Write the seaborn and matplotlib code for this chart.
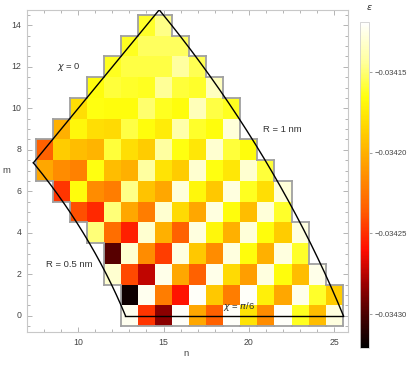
import numpy as np
import pandas as pd
import matplotlib
matplotlib.use("Agg")
import matplotlib.pyplot as plt
import seaborn as sns
from matplotlib.colors import LinearSegmentedColormap
from matplotlib.collections import LineCollection

# ---------------- data ----------------
m_values = list(range(15))
n_start = [13, 13, 12, 12, 11, 10, 9, 8, 8, 9, 10, 11, 12, 13, 14]

eps_m0 = [-0.034123, -0.034248, -0.034285, -0.034121, -0.034204, -0.034234, -0.034121,
          -0.034178, -0.034216, -0.034121, -0.034163, -0.034194, -0.034127]
eps_m1 = [-0.034317, -0.034123, -0.034222, -0.034258, -0.034121, -0.034190, -0.034222,
          -0.034121, -0.034172, -0.034204, -0.034125, -0.034161, -0.034188]
eps_m2 = [-0.034131, -0.034242, -0.034273, -0.034125, -0.034204, -0.034234, -0.034125,
          -0.034182, -0.034208, -0.034127, -0.034167, -0.034194, -0.034125]
eps_m3 = [-0.034297, -0.034131, -0.034216, -0.034246, -0.034127, -0.034190, -0.034216,
          -0.034127, -0.034167, -0.034200, -0.034127, -0.034161]
eps_m4 = [-0.034149, -0.034228, -0.034254, -0.034131, -0.034200, -0.034234, -0.034127,
          -0.034169, -0.034200, -0.034129, -0.034167, -0.034188, -0.034127]
eps_m5 = [-0.034240, -0.034252, -0.034149, -0.034204, -0.034222, -0.034131, -0.034182,
          -0.034204, -0.034127, -0.034167, -0.034194, -0.034129, -0.034161]
eps_m6 = [-0.034248, -0.034167, -0.034216, -0.034222, -0.034147, -0.034192, -0.034204,
          -0.034129, -0.034169, -0.034190, -0.034127, -0.034163, -0.034180, -0.034129]
eps_m7 = [-0.034204, -0.034216, -0.034220, -0.034165, -0.034194, -0.034200, -0.034143,
          -0.034178, -0.034188, -0.034131, -0.034165, -0.034176, -0.034131, -0.034159]
eps_m8 = [-0.034234, -0.034188, -0.034194, -0.034198, -0.034159, -0.034180, -0.034188,
          -0.034143, -0.034165, -0.034176, -0.034131, -0.034159, -0.034167]
eps_m9 = [-0.034200, -0.034169, -0.034180, -0.034182, -0.034157, -0.034167, -0.034174,
          -0.034141, -0.034161, -0.034167, -0.034129]
eps_m10 = [-0.034180, -0.034165, -0.034167, -0.034167, -0.034151, -0.034163, -0.034167,
           -0.034137, -0.034157, -0.034163]
eps_m11 = [-0.034167, -0.034159, -0.034161, -0.034163, -0.034145, -0.034159, -0.034161,
           -0.034135]
eps_m12 = [-0.034163, -0.034157, -0.034157, -0.034157, -0.034143, -0.034155]
eps_m13 = [-0.034163, -0.034153, -0.034153, -0.034153]
eps_m14 = [-0.034161, -0.034147]

eps_rows = [eps_m0, eps_m1, eps_m2, eps_m3, eps_m4, eps_m5, eps_m6, eps_m7,
            eps_m8, eps_m9, eps_m10, eps_m11, eps_m12, eps_m13, eps_m14]

x_ticks = [10, 15, 20, 25]
y_ticks = [0, 2, 4, 6, 8, 10, 12, 14]
cbar_ticks = [-0.03430, -0.03425, -0.03420, -0.03415]
vmin, vmax = -0.034321, -0.034119

radii_nm = [0.5, 1.0]
lattice_a = 0.246

# ---------------- table ----------------
n_cols = list(range(7, 27))
df = pd.DataFrame(np.nan, index=m_values, columns=n_cols)
for m, n0, row in zip(m_values, n_start, eps_rows):
    for k, v in enumerate(row):
        df.loc[m, n0 + k] = v

def fx(n):
    return np.asarray(n, dtype=float) - n_cols[0] + 0.5

def fy(m):
    return np.asarray(m, dtype=float) - m_values[0] + 0.5

cmap = LinearSegmentedColormap.from_list("solar", [
    (0.00, (0.0, 0.0, 0.0)),
    (0.10, (0.28, 0.0, 0.0)),
    (0.20, (0.62, 0.0, 0.0)),
    (0.30, (1.0, 0.05, 0.0)),
    (0.42, (1.0, 0.36, 0.0)),
    (0.55, (1.0, 0.60, 0.0)),
    (0.67, (1.0, 0.82, 0.0)),
    (0.77, (1.0, 1.0, 0.05)),
    (0.88, (1.0, 1.0, 0.62)),
    (1.00, (1.0, 1.0, 1.0)),
])

plt.rcParams['font.family'] = ['Liberation Sans', 'DejaVu Sans']
plt.rcParams['mathtext.fontset'] = 'dejavusans'

fig = plt.figure(figsize=(4.15, 3.69), dpi=100)
ax = fig.add_axes([0.0651, 0.1003, 0.7735, 0.8726])
cax = fig.add_axes([0.8675, 0.0569, 0.0217, 0.8835])

sns.heatmap(df, ax=ax, cbar_ax=cax, cmap=cmap, vmin=vmin, vmax=vmax,
            linewidths=0, rasterized=False)

# outline of the occupied cells
present = set()
for m, n0, row in zip(m_values, n_start, eps_rows):
    for k in range(len(row)):
        present.add((n0 + k, m))
segs = []
for (n, m) in present:
    x0, x1 = fx(n) - 0.5, fx(n) + 0.5
    y0, y1 = fy(m) - 0.5, fy(m) + 0.5
    if (n - 1, m) not in present:
        segs.append([(x0, y0), (x0, y1)])
    if (n + 1, m) not in present:
        segs.append([(x1, y0), (x1, y1)])
    if (n, m - 1) not in present:
        segs.append([(x0, y0), (x1, y0)])
    if (n, m + 1) not in present:
        segs.append([(x0, y1), (x1, y1)])
ax.add_collection(LineCollection(segs, colors='#a0a0a0', linewidths=1.3,
                                 capstyle='projecting', zorder=3))

# boundary lines (radius arcs and chiral-angle lines)
C = [2 * np.pi * r / lattice_a for r in radii_nm]
phi = np.linspace(0, np.pi / 6, 200)
for c in C:
    nn = c * (np.cos(phi) - np.sin(phi) / np.sqrt(3))
    mm = 2 * c * np.sin(phi) / np.sqrt(3)
    ax.plot(fx(nn), fy(mm), color='black', lw=1.0, zorder=4)
ax.plot(fx([C[0], C[1]]), fy([0, 0]), color='black', lw=1.0, zorder=4)
ax.plot(fx([C[0] / np.sqrt(3), C[1] / np.sqrt(3)]),
        fy([C[0] / np.sqrt(3), C[1] / np.sqrt(3)]), color='black', lw=1.0, zorder=4)

# axes limits / ticks
ax.set_xlim(fx(7.22), fx(25.81))
ax.set_ylim(fy(-0.78), fy(14.74))
ax.set_aspect('auto')
ax.set_xticks(fx(x_ticks))
ax.set_xticklabels([str(t) for t in x_ticks], rotation=0)
ax.set_xticks(fx(np.arange(7, 26)), minor=True)
ax.set_yticks(fy(y_ticks))
ax.set_yticklabels([str(t) for t in y_ticks], rotation=0)
ax.set_yticks(fy(np.arange(-0.5, 15, 0.5)), minor=True)
ax.set_xlabel('')
ax.set_ylabel('')
for s in ax.spines.values():
    s.set_visible(True)
    s.set_color('#c8c8c8')
    s.set_linewidth(0.8)
ax.tick_params(which='both', direction='in', top=True, right=True,
               labeltop=False, labelright=False, color='#a8a8a8', width=0.6)
ax.tick_params(which='major', length=3.5, labelsize=6.3, labelcolor='#444444', pad=4)
ax.tick_params(which='minor', length=2)

# annotations
tkw = dict(fontsize=6.8, color='#333333', ha='center', va='center', zorder=5)
ax.text(fx(9.45), fy(11.97), r'$\chi$ = 0', **tkw)
ax.text(fx(21.97), fy(9.0), 'R = 1 nm', **tkw)
ax.text(fx(9.45), fy(2.47), 'R = 0.5 nm', **tkw)
ax.text(fx(19.45), fy(0.47), r'$\chi$ = $\pi$/6', **tkw)

fig.text(186 / 415, 1 - 353 / 369, 'n', fontsize=6.8, color='#444444', ha='center', va='center')
fig.text(6 / 415, 1 - 170 / 369, 'm', fontsize=6.8, color='#444444', ha='center', va='center')

# colorbar
cbar = ax.collections[0].colorbar
cbar.set_ticks(cbar_ticks)
cbar.set_ticklabels(['\u2212%.5f' % abs(t) for t in cbar_ticks])
cbar.outline.set_edgecolor('#d0d0d0')
cbar.outline.set_linewidth(0.6)
cax.tick_params(length=2, width=0.6, color='#909090', labelsize=5.6,
                labelcolor='#444444', pad=2)
fig.text(369 / 415, 1 - 8 / 369, r'$\epsilon$', fontsize=6.8, color='#333333',
         ha='center', va='center')

fig.savefig('out.png', dpi=100)
